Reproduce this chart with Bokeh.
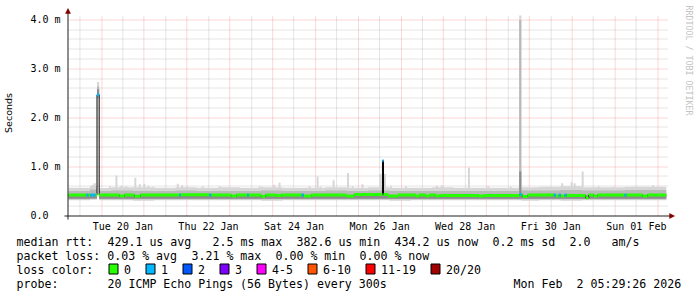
import math
import re
from datetime import datetime, timedelta

from bokeh.plotting import figure
from bokeh.layouts import column
from bokeh.models import Range1d, FixedTicker, Label
from bokeh.embed import file_html
from bokeh.resources import INLINE

# ---------------------------------------------------------------- data
GRAPH_START = datetime(2026, 1, 19, 5, 29, 26)
GRAPH_END = datetime(2026, 2, 2, 5, 29, 26)

# smoke band (hours since graph start; segment edges) and per-segment values in ms
band_t = [0, 12, 16.0, 17.2, 24, 36, 48, 60, 72, 84, 96, 108, 120, 132, 144, 156, 168,
          180, 192, 204, 216, 228, 240, 252, 252.8, 254.0, 264, 276, 288, 300, 312, 324, 335.3]
smoke_min = [0.31, 0.32, 2.40, 0.31, 0.31, 0.30, 0.31, 0.31, 0.31, 0.31, 0.31, 0.30, 0.31, 0.31, 0.31, 0.31,
             0.31, 0.30, 0.31, 0.31, 0.31, 0.31, 0.31, 0.31, 0.31, 0.30, 0.31, 0.30, 0.31, 0.31, 0.31, 0.31]
smoke_max = [0.57, 0.61, 2.73, 0.56, 0.58, 0.58, 0.57, 0.58, 0.57, 0.58, 0.57, 0.58, 0.57, 0.57, 0.58, 0.57,
             0.58, 0.57, 0.57, 0.58, 0.57, 0.57, 0.57, 0.57, 4.09, 0.58, 0.59, 0.60, 0.58, 0.58, 0.59, 0.59]
smoke_mid_lo = [0.33, 0.34, 2.43, 0.33, 0.33, 0.33, 0.33, 0.33, 0.33, 0.33, 0.33, 0.33, 0.33, 0.33, 0.33, 0.33,
                0.33, 0.33, 0.33, 0.33, 0.33, 0.33, 0.33, 0.33, 0.33, 0.33, 0.33, 0.33, 0.33, 0.33, 0.33, 0.33]
smoke_mid_hi = [0.50, 0.53, 2.64, 0.50, 0.51, 0.50, 0.50, 0.51, 0.50, 0.50, 0.50, 0.51, 0.50, 0.50, 0.51, 0.50,
                0.51, 0.50, 0.50, 0.50, 0.50, 0.50, 0.50, 0.50, 4.00, 0.51, 0.51, 0.52, 0.51, 0.51, 0.52, 0.52]
smoke_core_lo = [0.34, 0.35, 2.45, 0.34, 0.34, 0.34, 0.34, 0.34, 0.34, 0.34, 0.34, 0.34, 0.34, 0.34, 0.34, 0.34,
                 0.34, 0.34, 0.34, 0.34, 0.34, 0.34, 0.34, 0.34, 0.34, 0.34, 0.34, 0.34, 0.34, 0.34, 0.34, 0.34]
smoke_core_hi = [0.41, 0.42, 2.58, 0.41, 0.41, 0.41, 0.41, 0.41, 0.41, 0.41, 0.41, 0.41, 0.41, 0.41, 0.41, 0.41,
                 0.42, 0.41, 0.41, 0.41, 0.41, 0.41, 0.41, 0.41, 0.90, 0.41, 0.41, 0.41, 0.41, 0.41, 0.41, 0.41]

# isolated outliers of the smoke (hour, max rtt in ms)
spike_h = [13.7, 14.8, 23.2, 26.9, 29.7, 32.5, 37.5, 40.0, 42.6, 44.8, 47.6, 61.3, 63.8, 66.6, 75.3,
           84.8, 107.2, 108.9, 115.4, 118.4, 135.2, 139.7, 141.4, 148.7, 156.8, 159.3, 164.9, 175.0,
           177.5, 180.9, 189.3, 206.6, 209.4, 224.6, 235.5, 248.1, 276.9, 282.2, 283.9, 288.4, 297.4,
           305.2, 318.6, 327.9, 332.1]
spike_ms = [0.63, 0.66, 0.60, 0.82, 0.61, 0.60, 0.77, 0.64, 0.65, 0.61, 0.59, 0.65, 0.62, 0.59, 0.60,
            0.60, 0.60, 0.59, 0.63, 0.67, 0.60, 0.80, 0.59, 0.72, 0.87, 0.60, 0.64, 0.85,
            0.85, 0.60, 0.60, 0.61, 0.62, 0.98, 0.60, 0.59, 0.66, 0.68, 0.66, 0.90, 0.60,
            0.59, 0.60, 0.62, 0.58]

# median rtt (segment edges in hours, value in ms, lost pings of 20)
median_t = [0.0, 10.1, 11.2, 12.3, 15.1, 16.0, 17.2, 28.6, 31.4, 37.0, 40.3, 62.2, 63.0, 79.0, 80.1,
            91.3, 94.1, 100.2, 101.1, 108.1, 110.3, 116.5, 119.3, 130.8, 132.0, 136.1, 155.7, 160.2,
            176.1, 176.7, 179.2, 184.8, 194.9, 196.6, 200.5, 202.2, 206.1, 207.8, 230.2, 233.0, 253.1,
            254.2, 254.8, 257.6, 272.2, 273.3, 275.0, 276.1, 278.3, 279.4, 290.1, 291.8, 294.6, 296.8,
            311.9, 313.0, 322.0, 324.8, 335.3]
median_ms = [0.42, 0.42, 0.42, 0.42, 0.42, 2.47, 0.42, 0.40, 0.42, 0.395, 0.42, 0.42, 0.425, 0.42, 0.42,
             0.40, 0.42, 0.42, 0.42, 0.39, 0.42, 0.41, 0.42, 0.42, 0.40, 0.42, 0.40, 0.43, 1.12, 0.43,
             0.40, 0.42, 0.40, 0.42, 0.40, 0.42, 0.40, 0.41, 0.40, 0.41, 0.43, 0.42, 0.39, 0.42, 0.42,
             0.40, 0.42, 0.40, 0.42, 0.41, 0.36, 0.42, 0.40, 0.42, 0.42, 0.42, 0.40, 0.42]
median_loss = [0, 1, 0, 1, 0, 1, 0, 0, 0, 0, 0, 1, 0, 1, 0, 0, 0, 1, 0, 0, 0, 0, 0, 1, 0, 0, 0, 0, 1, 0,
               0, 0, 0, 0, 0, 0, 0, 0, 0, 0, 1, 0, 0, 0, 1, 0, 1, 0, 1, 0, 0, 0, 0, 0, 1, 0, 0, 0]

y_ticks = [0, 1, 2, 3, 4]
y_tick_labels = ["0.0\u00a0\u00a0", "1.0 m", "2.0 m", "3.0 m", "4.0 m"]
x_label_days = [datetime(2026, 1, 20), datetime(2026, 1, 22), datetime(2026, 1, 24), datetime(2026, 1, 26),
                datetime(2026, 1, 28), datetime(2026, 1, 30), datetime(2026, 2, 1)]

loss_names = ["0", "1", "2", "3", "4-5", "6-10", "11-19", "20/20"]
loss_colors = ["#26ff00", "#00b8ff", "#0059ff", "#7e00ff", "#ff00ff", "#ff5500", "#ff0000", "#a10000"]

legend_lines = [
    "median rtt:  429.1 us avg   2.5 ms max  382.6 us min  434.2 us now  0.2 ms sd  2.0   am/s",
    "packet loss: 0.03 % avg  3.21 % max  0.00 % min  0.00 % now",
]
loss_title = "loss color:"
probe_line = "probe:       20 ICMP Echo Pings (56 Bytes) every 300s"
stamp_line = "Mon Feb  2 05:29:26 2026"
y_title = "Seconds"
watermark = "RRDTOOL / TOBI OETIKER"

assert len(band_t) == len(smoke_min) + 1
for arr in (smoke_max, smoke_mid_lo, smoke_mid_hi, smoke_core_lo, smoke_core_hi):
    assert len(arr) == len(smoke_min)
assert len(median_t) == len(median_ms) + 1 == len(median_loss) + 1
assert len(spike_h) == len(spike_ms)

# ---------------------------------------------------------------- layout
W = 697
TOP_H = 234              # chart figure height; legend figure below
LEG_H = 297 - TOP_H
PLOT_L, PLOT_T, PLOT_W, PLOT_H = 67, 15, 600, 200      # rrdtool graph area (pixels)
FR_L, FR_R, FR_T, FR_B = 62, 697, 5, 220                # bokeh frame (holds arrows and watermark too)


def hrs(dt):
    return (dt - GRAPH_START).total_seconds() / 3600.0


SPAN_H = hrs(GRAPH_END)
Y_MAX = 4.09


def px_x(px):
    return (px - PLOT_L) * SPAN_H / PLOT_W


def px_y(py):
    return (PLOT_T + PLOT_H - py) * Y_MAX / PLOT_H


def crisp_x(h):   # snap a vertical rule to a pixel centre
    return px_x(math.floor(PLOT_L + h * PLOT_W / SPAN_H) + 0.5)


def crisp_y(v):
    return px_y(math.floor(PLOT_T + PLOT_H - v * PLOT_H / Y_MAX) + 0.5)


MONO = "DejaVu Sans Mono"

p = figure(width=W, height=TOP_H, x_range=Range1d(px_x(FR_L), px_x(FR_R)), y_range=Range1d(px_y(FR_B), px_y(FR_T)),
           output_backend="svg", toolbar_location=None,
           min_border_left=FR_L, min_border_right=W - FR_R, min_border_top=FR_T, min_border_bottom=TOP_H - FR_B,
           outline_line_color=None, background_fill_color="white", border_fill_color="white")
p.grid.visible = False

# axes: tick labels and title
label_ticks = [hrs(d + timedelta(hours=12)) for d in x_label_days]
xa = p.xaxis[0]
xa.ticker = FixedTicker(ticks=label_ticks)
xa.major_label_overrides = {t: d.strftime("%a %d %b") for t, d in zip(label_ticks, x_label_days)}
ya = p.yaxis[0]
ya.ticker = FixedTicker(ticks=y_ticks)
ya.major_label_overrides = {t: s for t, s in zip(y_ticks, y_tick_labels)}
ya.axis_label = y_title
ya.axis_label_text_font = "DejaVu Sans"
ya.axis_label_text_font_size = "9.5px"
ya.axis_label_text_font_style = "normal"
ya.axis_label_text_color = "#000000"
ya.axis_label_standoff = 13
ya.bounds = (px_y(219), px_y(17))

for ax, standoff in ((xa, 0), (ya, 59 - FR_L if False else FR_L - 59)):
    ax.axis_line_color = None
    ax.major_tick_line_color = None
    ax.minor_tick_line_color = None
    ax.major_tick_in = ax.major_tick_out = 0
    ax.minor_tick_in = ax.minor_tick_out = 0
    ax.major_label_standoff = standoff
    ax.major_label_text_font = MONO
    ax.major_label_text_font_size = "10px"
    ax.major_label_text_color = "#000000"

p.add_layout(Label(x=px_x(688.5), y=px_y(60), text=watermark, angle=-math.pi / 2, text_align="center",
                   text_baseline="middle", text_font=MONO, text_font_size="8.3px", text_color="#c4c4c4"))

# grid (dotted, under the data)
midnights = [hrs(datetime(2026, 1, 20) + timedelta(days=d)) for d in range(14)]
noons = [hrs(datetime(2026, 1, 19, 12) + timedelta(days=d)) for d in range(14)]
minor_y = [i / 5 for i in range(1, 21) if i % 5]
for vt, ht, color, alpha in ((noons, minor_y, "#8c8c8c", 0.45), (midnights, y_ticks[1:], "#f05050", 0.45)):
    xs = [crisp_x(t) for t in vt]
    p.segment(x0=xs, y0=[0] * len(xs), x1=xs, y1=[Y_MAX] * len(xs),
              line_color=color, line_alpha=alpha, line_width=1, line_dash="1 1")
    ys = [crisp_y(v) for v in ht]
    p.segment(x0=[0] * len(ys), y0=ys, x1=[SPAN_H] * len(ys), y1=ys,
              line_color=color, line_alpha=alpha, line_width=1, line_dash="1 1")

# smoke
SPIKE_W = 0.55
p.quad(left=[h - SPIKE_W for h in spike_h], right=[h + SPIKE_W for h in spike_h],
       bottom=[0.45] * len(spike_h), top=spike_ms, fill_color="#d6d6d6", line_color=None)


def close(vals):
    return list(vals) + [vals[-1]]


for lo, hi, col in ((smoke_min, smoke_max, "#d6d6d6"), (smoke_mid_lo, smoke_mid_hi, "#b9b9b9"),
                    (smoke_core_lo, smoke_core_hi, "#8c8c8c")):
    p.varea_step(x=band_t, y1=close(lo), y2=close(hi), step_mode="after", fill_color=col)

# median: thin dark connector plus loss-coloured band
p.step(x=median_t, y=close(median_ms), mode="after", line_color="#000000", line_width=1)
HALF = 1.45 * Y_MAX / PLOT_H


def loss_color(n):
    if n <= 3:
        return loss_colors[n]
    if n <= 5:
        return loss_colors[4]
    if n <= 10:
        return loss_colors[5]
    if n <= 19:
        return loss_colors[6]
    return loss_colors[7]


p.quad(left=median_t[:-1], right=median_t[1:], bottom=[m - HALF for m in median_ms],
       top=[m + HALF for m in median_ms], fill_color=[loss_color(n) for n in median_loss], line_color=None)

# axis rules with arrow heads
AX, RED = "#202020", "#800000"
p.segment(x0=[px_x(63), px_x(66.5)], y0=[px_y(215.5), px_y(219)], x1=[px_x(670), px_x(66.5)], y1=[px_y(215.5), px_y(11)],
          line_color=AX, line_width=1)
p.patches(xs=[[px_x(669), px_x(674), px_x(669)], [px_x(64), px_x(66.5), px_x(69)]],
          ys=[[px_y(213), px_y(215.5), px_y(218)], [px_y(13), px_y(8), px_y(13)]],
          fill_color=RED, line_color=RED, line_width=0.5)

# ---------------------------------------------------------------- legend block (separate canvas)
lf = figure(width=W, height=LEG_H, x_range=Range1d(0, W), y_range=Range1d(LEG_H, 0),
            output_backend="svg", toolbar_location=None, min_border=0,
            min_border_left=0, min_border_right=0, min_border_top=0, min_border_bottom=0,
            x_axis_location=None, y_axis_location=None, outline_line_color=None,
            background_fill_color="white", border_fill_color="white")
lf.grid.visible = False
for fig in (p, lf):
    if "frame_align" in fig.properties():
        fig.frame_align = False

CW = 7.0
LX = 16
LINE_Y = [241 - TOP_H, 255 - TOP_H, 269 - TOP_H, 283 - TOP_H]


def put(text, x, y):
    lf.add_layout(Label(x=x, y=y, text=text, text_align="left", text_baseline="middle",
                        text_font=MONO, text_font_size="11.6px", text_color="#000000"))


def put_line(line, y):
    for m in re.finditer(r"\S+(?: \S+)*", line):
        put(m.group(0), LX + m.start() * CW, y)


put_line(legend_lines[0], LINE_Y[0])
put_line(legend_lines[1], LINE_Y[1])
put(loss_title, LX, LINE_Y[2])
bx = 108
box_l, box_r = [], []
for name in loss_names:
    put(name, bx + 15.5, LINE_Y[2])
    box_l.append(bx + 0.5)
    box_r.append(bx + 9.5)
    bx += 30 + CW * len(name)
lf.quad(left=box_l, right=box_r, top=[LINE_Y[2] - 5.5] * len(box_l), bottom=[LINE_Y[2] + 4.5] * len(box_l),
        fill_color=loss_colors, line_color="#000000", line_width=1)
put_line(probe_line, LINE_Y[3])
stamp_parts = stamp_line.split("  ")
put(stamp_parts[0], 681 - CW * len(stamp_line), LINE_Y[3])
put(stamp_parts[1], 681 - CW * len(stamp_parts[1]), LINE_Y[3])

layout = column(p, lf, spacing=0)
open("out.html", "w").write(file_html(layout, INLINE))
